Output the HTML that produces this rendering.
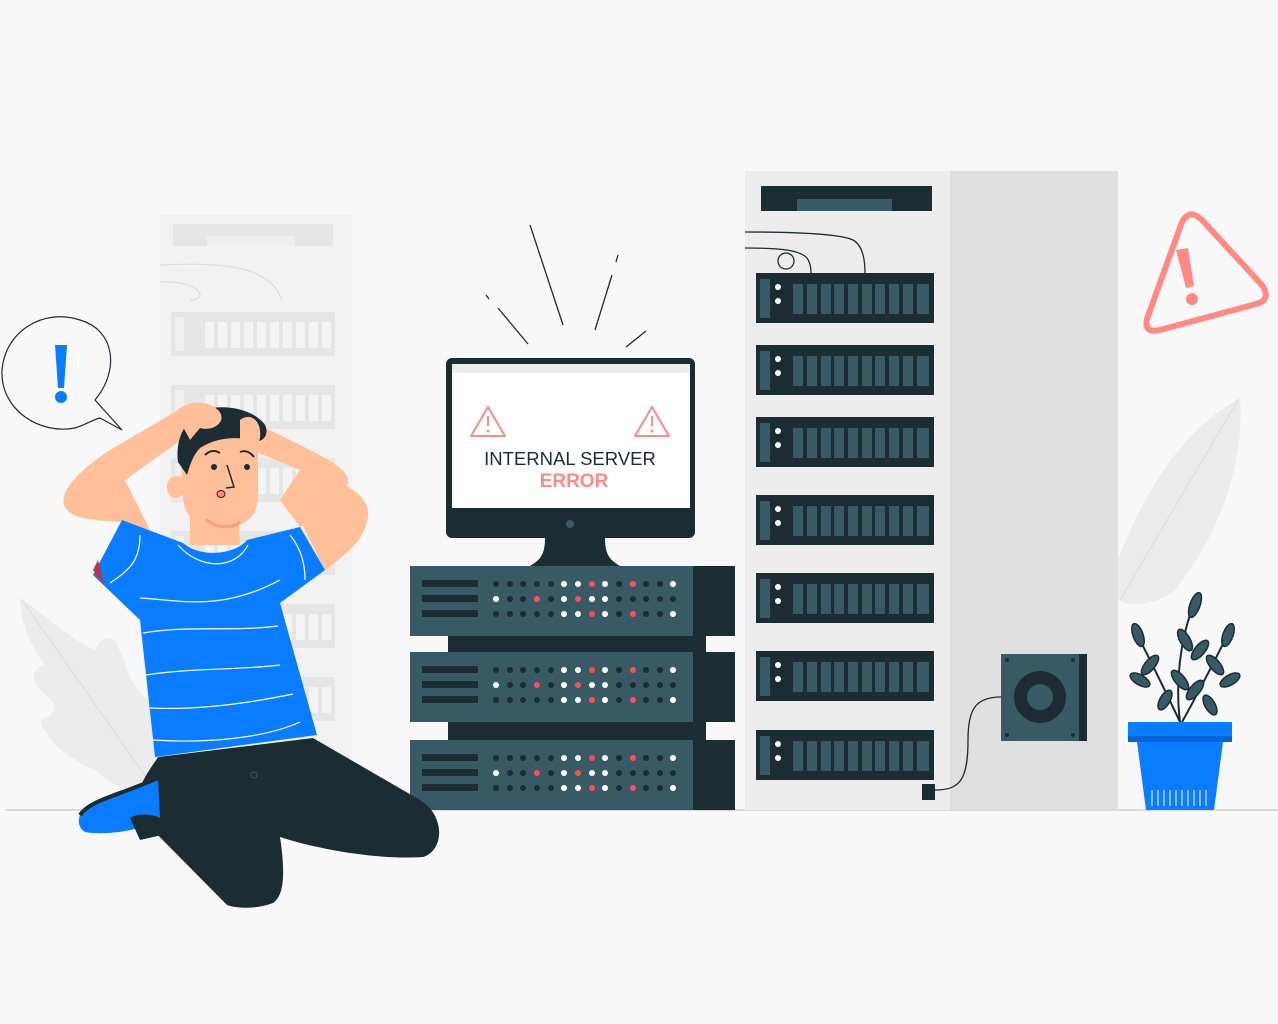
<!DOCTYPE html>
<html><head><meta charset="utf-8"><style>
html,body{margin:0;padding:0;background:#f8f8f8;}
svg{display:block}
</style></head><body>
<svg width="1278" height="1024" viewBox="0 0 1278 1024" xmlns="http://www.w3.org/2000/svg">
<defs>
<g id="ru">
 <rect x="0" y="0" width="178" height="50" fill="#1c2c33"/>
 <rect x="4" y="6" width="10" height="39" fill="#375a64"/>
 <circle cx="22" cy="14" r="3" fill="#fff"/><circle cx="22" cy="28" r="3" fill="#fff"/>
 <g fill="#375a64">
 <rect x="37" y="11" width="10" height="30"/><rect x="51" y="11" width="10" height="30"/><rect x="65" y="11" width="10" height="30"/><rect x="78" y="11" width="10" height="30"/><rect x="92" y="11" width="10" height="30"/><rect x="106" y="11" width="10" height="30"/><rect x="119" y="11" width="10" height="30"/><rect x="133" y="11" width="10" height="30"/><rect x="147" y="11" width="10" height="30"/><rect x="161" y="11" width="12" height="30"/>
 </g>
</g>
<g id="lu">
 <rect x="0" y="0" width="164" height="44" fill="#e6e6e6"/>
 <rect x="4" y="5" width="9" height="34" fill="#f0f0f0"/>
 <g fill="#f4f4f4">
 <rect x="34" y="10" width="9" height="26"/><rect x="47" y="10" width="9" height="26"/><rect x="60" y="10" width="9" height="26"/><rect x="73" y="10" width="9" height="26"/><rect x="86" y="10" width="9" height="26"/><rect x="99" y="10" width="9" height="26"/><rect x="112" y="10" width="9" height="26"/><rect x="125" y="10" width="9" height="26"/><rect x="138" y="10" width="9" height="26"/><rect x="151" y="10" width="9" height="26"/>
 </g>
</g>
<g id="su">
 <rect x="0" y="0" width="283" height="70" fill="#375a64"/>
 <rect x="283" y="0" width="42" height="70" fill="#1c2c33"/>
 <rect x="12" y="14" width="56" height="7" fill="#1c2c33"/>
 <rect x="12" y="29" width="56" height="7" fill="#1c2c33"/>
 <rect x="12" y="44" width="56" height="7" fill="#1c2c33"/>
 <g>
 <circle cx="86" cy="18" r="3" fill="#1c2c33"/><circle cx="100" cy="18" r="3" fill="#1c2c33"/><circle cx="113" cy="18" r="3" fill="#1c2c33"/><circle cx="127" cy="18" r="3" fill="#1c2c33"/><circle cx="141" cy="18" r="3" fill="#1c2c33"/><circle cx="154" cy="18" r="3" fill="#fff"/><circle cx="168" cy="18" r="3" fill="#fff"/><circle cx="182" cy="18" r="3" fill="#ff4d5a"/><circle cx="195" cy="18" r="3" fill="#fff"/><circle cx="209" cy="18" r="3" fill="#1c2c33"/><circle cx="223" cy="18" r="3" fill="#ff4d5a"/><circle cx="236" cy="18" r="3" fill="#1c2c33"/><circle cx="250" cy="18" r="3" fill="#1c2c33"/><circle cx="263" cy="18" r="3" fill="#fff"/>
 <circle cx="86" cy="33" r="3" fill="#fff"/><circle cx="100" cy="33" r="3" fill="#1c2c33"/><circle cx="113" cy="33" r="3" fill="#1c2c33"/><circle cx="127" cy="33" r="3" fill="#ff4d5a"/><circle cx="141" cy="33" r="3" fill="#1c2c33"/><circle cx="154" cy="33" r="3" fill="#fff"/><circle cx="168" cy="33" r="3" fill="#ff4d5a"/><circle cx="182" cy="33" r="3" fill="#fff"/><circle cx="195" cy="33" r="3" fill="#fff"/><circle cx="209" cy="33" r="3" fill="#1c2c33"/><circle cx="223" cy="33" r="3" fill="#1c2c33"/><circle cx="236" cy="33" r="3" fill="#1c2c33"/><circle cx="250" cy="33" r="3" fill="#1c2c33"/><circle cx="263" cy="33" r="3" fill="#1c2c33"/>
 <circle cx="86" cy="48" r="3" fill="#1c2c33"/><circle cx="100" cy="48" r="3" fill="#1c2c33"/><circle cx="113" cy="48" r="3" fill="#1c2c33"/><circle cx="127" cy="48" r="3" fill="#1c2c33"/><circle cx="141" cy="48" r="3" fill="#1c2c33"/><circle cx="154" cy="48" r="3" fill="#fff"/><circle cx="168" cy="48" r="3" fill="#fff"/><circle cx="182" cy="48" r="3" fill="#ff4d5a"/><circle cx="195" cy="48" r="3" fill="#fff"/><circle cx="209" cy="48" r="3" fill="#1c2c33"/><circle cx="223" cy="48" r="3" fill="#ff4d5a"/><circle cx="236" cy="48" r="3" fill="#1c2c33"/><circle cx="250" cy="48" r="3" fill="#1c2c33"/><circle cx="263" cy="48" r="3" fill="#fff"/>
 </g>
</g>
</defs>

<!-- left faded rack -->
<rect x="160" y="215" width="192" height="595" fill="#f2f2f2"/>
<rect x="173" y="224" width="160" height="22" fill="#e6e6e6"/>
<rect x="207" y="236" width="88" height="10" fill="#efefef"/>
<path d="M160 265 C220 262 270 265 282 300 M160 282 C200 280 210 300 190 300" fill="none" stroke="#ddd" stroke-width="1.2"/>
<use href="#lu" x="171" y="312"/>
<use href="#lu" x="171" y="385"/>
<use href="#lu" x="171" y="458"/>
<use href="#lu" x="171" y="531"/>
<use href="#lu" x="171" y="604"/>
<use href="#lu" x="171" y="677"/>
<!-- left leaf -->
<path d="M20 598 C40 610 70 640 95 650 C100 640 105 635 115 640 C125 660 130 690 150 700 L160 790 C140 795 115 790 95 770 C70 760 45 740 40 720 C55 715 60 705 45 695 C30 680 30 670 45 665 C30 645 20 620 20 598Z" fill="#ececec"/>
<path d="M22 600 L155 790" stroke="#dcdcdc" stroke-width="1"/>

<!-- right leaf -->
<path d="M1118 560 C1140 500 1180 430 1240 398 C1245 470 1215 540 1175 590 C1155 605 1130 608 1118 600Z" fill="#ececec"/>
<path d="M1120 600 L1238 400" stroke="#dcdcdc" stroke-width="1"/>

<!-- ground line -->
<line x1="5" y1="810" x2="1278" y2="810" stroke="#c8c8c8" stroke-width="1.2"/>

<!-- right big rack -->
<rect x="745" y="171" width="205" height="639" fill="#ededed"/>
<rect x="950" y="171" width="168" height="639" fill="#e0e0e0"/>
<rect x="761" y="186" width="171" height="25" fill="#1c2c33"/>
<rect x="797" y="199" width="95" height="12" fill="#375a64"/>
<path d="M745 232 C800 232 840 234 853 240 C862 245 865 258 865 273 M745 248 C780 248 800 250 807 258 C810 262 811 268 811 273" fill="none" stroke="#1c2c33" stroke-width="1.3"/>
<circle cx="786" cy="261" r="8" fill="none" stroke="#1c2c33" stroke-width="1.3"/>
<use href="#ru" x="756" y="273"/>
<use href="#ru" x="756" y="345"/>
<use href="#ru" x="756" y="417"/>
<use href="#ru" x="756" y="495"/>
<use href="#ru" x="756" y="573"/>
<use href="#ru" x="756" y="651"/>
<use href="#ru" x="756" y="730"/>

<!-- speaker -->
<rect x="1001" y="654" width="78" height="87" fill="#375a64"/>
<rect x="1079" y="654" width="8" height="87" fill="#1c2c33"/>
<circle cx="1040" cy="697" r="26" fill="#1c2c33"/>
<circle cx="1040" cy="697" r="13" fill="#375a64"/>
<circle cx="1007" cy="660" r="2" fill="#1c2c33"/><circle cx="1073" cy="660" r="2" fill="#1c2c33"/><circle cx="1007" cy="735" r="2" fill="#1c2c33"/><circle cx="1073" cy="735" r="2" fill="#1c2c33"/>
<path d="M1001 697 C975 697 968 710 968 740 C968 780 960 790 935 790" fill="none" stroke="#1c2c33" stroke-width="1.3"/>
<rect x="922" y="784" width="13" height="16" fill="#1c2c33"/>

<!-- warning triangle -->
<path d="M1182 222 Q1190 208 1202 220 L1262 285 Q1272 300 1256 304 L1160 330 Q1142 334 1148 316 Z" fill="none" stroke="#ff8a85" stroke-width="6" stroke-linejoin="round"/>
<path d="M1176 250 L1188 248 L1194 286 L1186 288 Z" fill="#ff8a85"/>
<circle cx="1192" cy="299" r="6" fill="#ff8a85"/>

<!-- plant -->
<g stroke="#1c2c33" stroke-width="2" fill="none">
<path d="M1180 722 C1175 680 1180 640 1195 600 M1180 722 C1165 690 1150 660 1135 630 M1182 722 C1200 690 1215 660 1230 630"/>
</g>
<g fill="#375a64" stroke="#1c2c33" stroke-width="1.5">
<ellipse cx="1195" cy="605" rx="5" ry="13" transform="rotate(20 1195 605)"/>
<ellipse cx="1185" cy="640" rx="5" ry="12" transform="rotate(-30 1185 640)"/>
<ellipse cx="1200" cy="650" rx="5" ry="12" transform="rotate(40 1200 650)"/>
<ellipse cx="1180" cy="680" rx="5" ry="12" transform="rotate(-40 1180 680)"/>
<ellipse cx="1195" cy="690" rx="5" ry="12" transform="rotate(40 1195 690)"/>
<ellipse cx="1138" cy="635" rx="5" ry="12" transform="rotate(-20 1138 635)"/>
<ellipse cx="1150" cy="665" rx="5" ry="12" transform="rotate(40 1150 665)"/>
<ellipse cx="1140" cy="680" rx="5" ry="11" transform="rotate(-60 1140 680)"/>
<ellipse cx="1165" cy="700" rx="5" ry="11" transform="rotate(30 1165 700)"/>
<ellipse cx="1228" cy="635" rx="5" ry="12" transform="rotate(20 1228 635)"/>
<ellipse cx="1215" cy="665" rx="5" ry="12" transform="rotate(-40 1215 665)"/>
<ellipse cx="1230" cy="680" rx="5" ry="11" transform="rotate(60 1230 680)"/>
<ellipse cx="1210" cy="705" rx="5" ry="11" transform="rotate(-30 1210 705)"/>
</g>
<path d="M1128 722 H1232 V742 H1223 L1214 810 H1146 L1137 742 H1128Z" fill="#0a7cff"/>
<rect x="1128" y="736" width="104" height="6" fill="#0563d8"/>
<g stroke="#fff" stroke-width="1"><path d="M1152 790 V806 M1158 790 V806 M1164 790 V806 M1170 790 V806 M1176 790 V806 M1182 790 V806 M1188 790 V806 M1194 790 V806 M1200 790 V806 M1206 790 V806"/></g>

<!-- monitor -->
<rect x="446" y="358" width="249" height="180" rx="6" fill="#1c2c33"/>
<rect x="452" y="364" width="238" height="144" fill="#fff"/>
<rect x="452" y="364" width="238" height="9" fill="#ececec"/>
<circle cx="570" cy="524" r="4" fill="#375a64"/>
<path d="M545 538 H605 C605 555 610 560 620 566 H530 C540 560 545 555 545 538Z" fill="#1c2c33"/>
<g fill="none" stroke="#ff8a85" stroke-width="2" stroke-linejoin="round">
<path d="M488 407 L505 436 H471 Z"/><path d="M652 407 L669 436 H635 Z"/>
</g>
<g fill="#ff8a85"><rect x="487" y="416" width="2" height="10"/><circle cx="488" cy="431" r="1.5"/><rect x="651" y="416" width="2" height="10"/><circle cx="652" cy="431" r="1.5"/></g>
<text x="570" y="465" text-anchor="middle" font-family="Liberation Sans, sans-serif" font-size="18.5" fill="#1c2c33">INTERNAL SERVER</text>
<text x="574" y="487" text-anchor="middle" font-family="Liberation Sans, sans-serif" font-size="19" font-weight="bold" fill="#ff8a85">ERROR</text>
<!-- burst lines -->
<g stroke="#1c2c33" stroke-width="1.3"><line x1="530" y1="225" x2="563" y2="325"/><line x1="612" y1="275" x2="595" y2="330"/><line x1="618" y1="255" x2="616" y2="262"/><line x1="498" y1="308" x2="528" y2="344"/><line x1="486" y1="295" x2="489" y2="299"/><line x1="646" y1="331" x2="626" y2="347"/></g>

<!-- server stack -->
<use href="#su" x="410" y="566"/>
<rect x="448" y="636" width="258" height="16" fill="#1c2c33"/>
<use href="#su" x="410" y="652"/>
<rect x="448" y="722" width="258" height="18" fill="#1c2c33"/>
<use href="#su" x="410" y="740"/>

<!-- speech bubble -->
<path d="M95 400 C120 370 115 330 80 320 C45 308 5 330 2 370 C0 410 40 435 75 428 C85 425 92 420 100 418 L122 430 Z" fill="#f8f8f8" stroke="#1c2c33" stroke-width="1.2"/>
<path d="M55 345 H67 L64 388 H58Z" fill="#0a7cff"/>
<circle cx="61" cy="397" r="6" fill="#0a7cff"/>

<!-- person -->
<path d="M122 522 C95 520 70 520 64 505 C60 490 80 470 110 450 L175 412 L195 430 L125 480 L150 530 Z" fill="#ffbf99"/>
<path d="M300 527 C330 505 345 495 348 483 C350 470 330 460 290 440 L245 418 L240 445 L300 470 L280 500 Z" fill="#ffbf99"/>
<path d="M325 570 C345 555 365 540 368 517 C370 500 355 490 340 483 L295 510 Z" fill="#ffbf99"/>
<path d="M190 490 L190 545 H240 L238 500Z" fill="#ffbf99"/>
<path d="M180 445 C180 430 210 425 245 430 L258 440 L258 495 C258 520 240 530 215 528 C195 526 183 515 183 495 Z" fill="#ffbf99"/>
<ellipse cx="176" cy="487" rx="9" ry="11" fill="#ffbf99"/>
<path d="M206 519 C215 528 232 529 240 522" fill="none" stroke="#ff9d7a" stroke-width="3"/>
<path d="M178 462 C175 440 185 418 205 410 C225 403 255 410 265 425 C270 435 262 445 250 440 C235 436 215 438 200 448 C193 455 190 465 187 475 Z" fill="#1c2c33"/>
<path d="M175 412 C185 402 205 398 218 410 C228 420 215 432 200 428 L190 440 Z" fill="#ffbf99"/>
<path d="M240 420 C250 412 262 420 260 438 L255 455 L240 445 Z" fill="#ffbf99"/>
<circle cx="214" cy="467" r="3" fill="#1c2c33"/><circle cx="247" cy="467" r="3" fill="#1c2c33"/>
<path d="M227 465 L234 487 L226 488" fill="none" stroke="#1c2c33" stroke-width="1.5"/>
<ellipse cx="221" cy="494" rx="4" ry="3.5" fill="#ff8a70" stroke="#1c2c33" stroke-width="1"/>
<path d="M205 455 C210 450 215 450 220 453 M240 452 C245 450 250 452 254 457" fill="none" stroke="#1c2c33" stroke-width="2"/>
<path d="M122 520 L93 575 L140 620 L155 757 L317 735 L280 603 L325 570 L300 527 L247 540 C235 555 200 558 183 543 Z" fill="#0a7cff"/>
<path d="M93 570 L98 560 L104 585Z" fill="#c0333a"/>
<g fill="none" stroke="#fff" stroke-width="1.2">
<path d="M178 545 C200 570 235 570 248 545"/>
<path d="M140 598 C180 600 220 612 280 580"/>
<path d="M143 633 C190 625 230 632 278 626"/>
<path d="M146 675 C190 668 240 670 280 665"/>
<path d="M150 708 C190 710 240 705 293 694"/>
<path d="M152 740 C200 743 260 740 300 722"/>
<path d="M110 583 C130 570 140 560 140 535"/>
<path d="M290 535 C302 550 305 565 305 580"/>
</g>
<path d="M158 757 L313 738 L420 800 C445 815 445 850 423 857 C380 860 320 850 280 837 C285 870 285 895 273 903 C255 910 235 908 227 905 L133 810 C140 780 150 770 158 757Z" fill="#1c2c33"/>
<path d="M80 815 C90 800 120 795 158 778 L160 818 C140 833 100 835 85 832 C78 828 78 820 80 815Z" fill="#0a7cff"/>
<path d="M80 815 C90 800 120 795 158 778" fill="none" stroke="#1c2c33" stroke-width="4"/>
<path d="M130 818 C140 812 155 815 160 818 L162 835 L140 840Z" fill="#1c2c33"/>
<circle cx="254" cy="775" r="3" fill="none" stroke="#375a64" stroke-width="1"/>
</svg>
</body></html>
